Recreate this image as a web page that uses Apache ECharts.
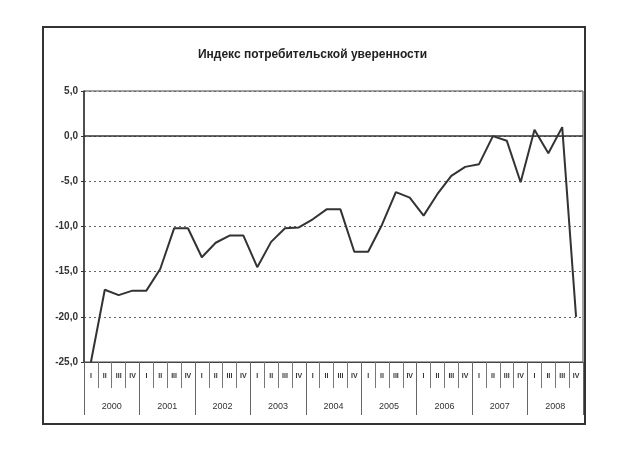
<!DOCTYPE html>
<html>
<head>
<meta charset="utf-8">
<script src="https://cdn.jsdelivr.net/npm/echarts@6/dist/echarts.min.js"></script>
<style>html,body{margin:0;padding:0;background:#fff}#c{width:625px;height:451px}</style>
</head>
<body>
<div id="c"></div>
<script>
const title = 'Индекс потребительской уверенности';
const years = ['2000','2001','2002','2003','2004','2005','2006','2007','2008'];
const quarterNames = ['I','II','III','IV'];
const values = [
  -25.0, -17.0, -17.6, -17.1,
  -17.1, -14.7, -10.2, -10.2,
  -13.4, -11.8, -11.0, -11.0,
  -14.5, -11.7, -10.2, -10.1,
   -9.2,  -8.1,  -8.1, -12.8,
  -12.8,  -9.8,  -6.2,  -6.8,
   -8.8,  -6.4,  -4.4,  -3.4,
   -3.1,   0.0,  -0.5,  -5.1,
    0.7,  -1.9,   1.0, -20.0
];
const yMin = -25, yMax = 5, yStep = 5;

const categories = [];
years.forEach(y => quarterNames.forEach(q => categories.push(y + '|' + q)));

const chart = echarts.init(document.getElementById('c'));
chart.setOption({
  backgroundColor: '#fff',
  animation: false,
  title: {
    text: title, left: 'center', top: 44,
    textStyle: { fontFamily: 'Liberation Sans', fontSize: 12, fontWeight: 'bold', color: '#222' }
  },
  graphic: [{
    type: 'rect', shape: { x: 43, y: 27, width: 542, height: 397 },
    style: { fill: 'none', stroke: '#333', lineWidth: 2 }, silent: true
  }],
  grid: { left: 84, right: 42, top: 91, bottom: 89, show: true, borderColor: '#444', borderWidth: 1 },
  xAxis: [{
    type: 'category', data: categories, boundaryGap: true, position: 'bottom',
    axisLine: { show: true, onZero: false, lineStyle: { color: '#444', width: 1 } },
    axisTick: { show: true, interval: 0, length: 26, lineStyle: { color: '#777' } },
    axisLabel: {
      interval: 0, margin: 11, fontFamily: 'Liberation Sans', fontSize: 7, fontWeight: 'bold', color: '#333',
      formatter: v => v.split('|')[1]
    },
    splitLine: { show: false }
  }, {
    type: 'category', data: years, boundaryGap: true, position: 'bottom',
    axisLine: { show: false, onZero: false },
    axisTick: { show: true, interval: 0, length: 53, lineStyle: { color: '#666' } },
    axisLabel: { interval: 0, margin: 40, fontFamily: 'Liberation Sans', fontSize: 9, color: '#333' },
    splitLine: { show: false }
  }],
  yAxis: {
    type: 'value', min: yMin, max: yMax, interval: yStep,
    axisLine: { show: true, lineStyle: { color: '#333', width: 1.5 } },
    axisTick: { show: true, length: 3, lineStyle: { color: '#333' } },
    axisLabel: {
      fontFamily: 'Liberation Sans', fontSize: 10, fontWeight: 'bold', color: '#333', margin: 6,
      formatter: v => v.toFixed(1).replace('.', ',')
    },
    splitLine: { show: true, lineStyle: { color: '#666', type: [2, 3], width: 1 } }
  },
  series: [{
    type: 'line', data: values, xAxisIndex: 0, showSymbol: false, symbol: 'none',
    lineStyle: { color: '#333', width: 2 },
    markLine: {
      silent: true, symbol: 'none', label: { show: false },
      lineStyle: { color: '#333', type: 'solid', width: 1.5 },
      data: [{ yAxis: 0 }]
    }
  }]
});
</script>
</body>
</html>
